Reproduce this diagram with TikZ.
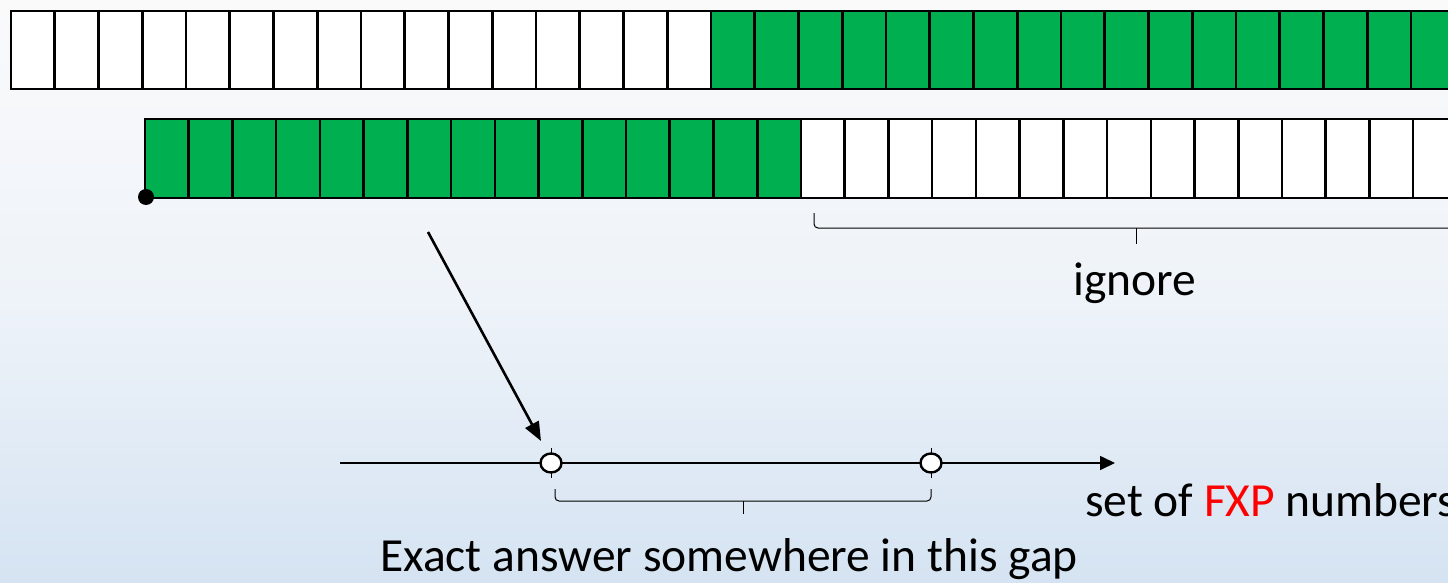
\documentclass[tikz,border=0pt]{standalone}
\usepackage{fontspec}
\setmainfont{Carlito}
\usetikzlibrary{arrows.meta,shapes.geometric}
\definecolor{cellgreen}{RGB}{0,176,80}
\definecolor{bgtop}{RGB}{250,250,251}
\definecolor{bgmid}{RGB}{238,243,249}
\definecolor{bgbot}{RGB}{213,227,242}
\definecolor{fxpred}{RGB}{255,0,0}
\tikzset{
  cell/.style={draw=black, line width=2.6pt},
  brace/.style={draw=black, line width=1pt, rounded corners=4pt},
  tick/.style={draw=black, line width=1pt},
  pointmark/.style={ellipse, draw=black, fill=white, line width=2.4pt,
                    minimum width=21pt, minimum height=19pt, inner sep=0pt},
  label/.style={font=\fontsize{47.5}{52}\selectfont, inner sep=0pt, anchor=base west},
}
\begin{document}
\begin{tikzpicture}[x=1pt,y=-1pt]
  \useasboundingbox (0,0) rectangle (1448,583);
  \clip (0,0) rectangle (1448,583);
  % background wash
  \shade[top color=bgtop, bottom color=bgmid] (0,0) rectangle (1448,300);
  \shade[top color=bgmid, bottom color=bgbot] (0,300) rectangle (1448,583);

  % upper register: 16 empty cells followed by filled cells
  \foreach \k in {0,...,33} {
    \pgfmathsetmacro{\xa}{11+\k*43.75}
    \pgfmathsetmacro{\xb}{11+(\k+1)*43.75}
    \ifnum\k<16
      \filldraw[cell, fill=white] (\xa,11) rectangle (\xb,89);
    \else
      \filldraw[cell, fill=cellgreen] (\xa,11) rectangle (\xb,89);
    \fi
  }
  % lower register: 15 filled cells followed by empty cells
  \foreach \k in {0,...,30} {
    \pgfmathsetmacro{\xa}{145+\k*43.73}
    \pgfmathsetmacro{\xb}{145+(\k+1)*43.73}
    \ifnum\k<15
      \filldraw[cell, fill=cellgreen] (\xa,119) rectangle (\xb,198);
    \else
      \filldraw[cell, fill=white] (\xa,119) rectangle (\xb,198);
    \fi
  }
  \fill[black] (146,197) circle (8);

  % brace under the discarded cells
  \draw[brace] (814,213) -- (814,228) -- (1136,228) -- (1458,228) -- (1458,213);
  \draw[line width=1pt] (1136,228) -- (1136,244);
  \node[label] (ign) at (1073,295) {ignore};

  % number line
  \coordinate (lstart) at (340,463);
  \coordinate (lend) at (1115,463);
  \draw[line width=1.6pt, -{Triangle[length=15pt,width=14pt]}] (lstart) -- (lend);
  \draw[tick] (551,448) -- (551,478);
  \draw[tick] (931,448) -- (931,478);
  \node[pointmark] (lo) at (551,463) {};
  \node[pointmark] (hi) at (931,463) {};

  % brace marking the gap
  \draw[brace] (555,489) -- (555,501) -- (743,501) -- (931,501) -- (931,489);
  \draw[line width=1pt] (743,501) -- (743,514);

  % pointer from the lower register to the rounded value
  \coordinate (from) at (428,232);
  \draw[line width=2.6pt, -{Triangle[length=19pt,width=15pt]}] (from) -- (541,441);

  \node[label] (fxp) at (1085,516) {set of \textcolor{fxpred}{FXP} numbers};
  \node[label] (gap) at (380,571) {Exact answer somewhere in this gap};
\end{tikzpicture}
\end{document}
